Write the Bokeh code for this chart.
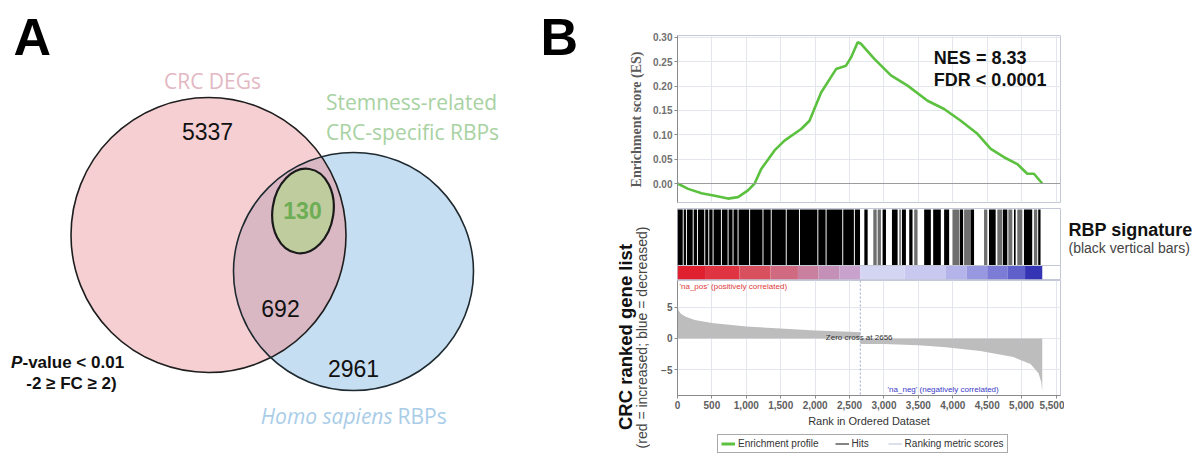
import numpy as np
from bokeh.plotting import figure
from bokeh.layouts import row, column
from bokeh.models import (Range1d, FixedTicker, NumeralTickFormatter, Span, Label,
                          Legend, LegendItem)
from bokeh.core.properties import value
from bokeh.embed import file_html
from bokeh.resources import INLINE

# ---------------- DATA ----------------
# Panel A: Venn diagram
venn_sets = ["CRC DEGs", "Homo sapiens RBPs", "Stemness-related CRC-specific RBPs"]
venn_regions = ["CRC DEGs only", "CRC DEGs & RBPs", "Stemness-related", "RBPs only"]
venn_counts = [5337, 692, 130, 2961]

# Panel B: running enrichment score
es_rank = [0, 155, 348, 541, 734, 879, 1024, 1121, 1217, 1410, 1555, 1797, 1918,
           2087, 2304, 2449, 2522, 2618, 2667, 2860, 3101, 3343, 3633, 3874, 4116,
           4358, 4551, 4744, 4937, 5082, 5179, 5300]
es_value = [0.0, -0.011, -0.020, -0.025, -0.031, -0.028, -0.014, 0.0, 0.030, 0.068,
            0.088, 0.112, 0.129, 0.187, 0.235, 0.242, 0.259, 0.290, 0.287, 0.256,
            0.222, 0.201, 0.170, 0.153, 0.129, 0.102, 0.071, 0.054, 0.040, 0.020,
            0.020, 0.0]
nes_text = "NES = 8.33"
fdr_text = "FDR < 0.0001"

# hits (black vertical bars): dense spans and sparser (grey-looking) spans, in rank units
hit_dense_start = [0, 90, 137, 235, 297, 403, 461, 524, 645, 742, 814, 887, 1055, 1249,
                   1369, 1587, 1779, 2046, 2166, 2408, 2577, 2715, 2980, 3116, 3261, 3367,
                   3584, 3715, 3874, 4101, 4261, 4526, 4729, 4889, 5034, 5241]
hit_dense_end = [76, 123, 221, 283, 389, 447, 510, 631, 728, 800, 873, 1041, 1235, 1355,
                 1573, 1765, 2032, 2152, 2394, 2563, 2652, 2763, 3029, 3198, 3319, 3415,
                 3681, 3826, 3947, 4150, 4309, 4623, 4792, 4913, 5154, 5275]
hit_sparse_start = [2845, 2908, 3222, 3439, 3995, 4164, 4454, 4647, 4807, 4937, 5179]
hit_sparse_end = [2894, 2956, 3246, 3488, 4092, 4261, 4502, 4720, 4865, 5010, 5227]

# ranking-metric colour bar (red = increased, blue = decreased)
bar_edges = [0, 400, 900, 1350, 1750, 2050, 2350, 2656, 3300, 3900, 4200, 4500, 4800,
             5050, 5300]
bar_colors = ["#E0202E", "#E03442", "#D8505E", "#D06A80", "#C8809E", "#C490B8",
              "#C8A2CC", "#D4D4F3", "#C8C8F0", "#B4B4EA", "#9898E0", "#7C7CD6",
              "#6060CA", "#3434B4"]

# ranked list metric
metric_rank = [0, 15, 50, 120, 250, 500, 1000, 1500, 2000, 2500, 2655, 2657, 3000,
               3500, 3900, 4400, 4880, 5130, 5246, 5285, 5300]
metric_value = [5.4, 4.5, 4.0, 3.5, 3.0, 2.5, 1.95, 1.6, 1.3, 1.1, 1.0, -0.9, -0.9,
                -1.1, -1.4, -2.0, -3.0, -4.1, -5.6, -7.0, -8.6]
zero_cross = 2656
x_ticks = [0, 500, 1000, 1500, 2000, 2500, 3000, 3500, 4000, 4500, 5000, 5500]
es_ticks = [0.0, 0.05, 0.10, 0.15, 0.20, 0.25, 0.30]
metric_ticks = [-5, 0, 5]
legend_labels = ["Enrichment profile", "Hits", "Ranking metric scores"]

# ---------------- STYLE ----------------
SANS = "Liberation Sans"
GRID = "#E4E6EE"
OUTLINE = "#C4C8D6"
GREEN = "#5BC13F"


def blank(p):
    p.axis.visible = False
    p.grid.visible = False
    p.outline_line_color = None


# ---------------- PANEL A (and free labels) ----------------
fa = figure(width=650, height=455, x_range=Range1d(0, 650), y_range=Range1d(455, 0),
            output_backend="svg", toolbar_location=None, min_border=0)
blank(fa)

pink = (208, 234.5, 275, 275)
blue = (353, 271, 240, 238)
green = (302.5, 210.5, 61, 85)

fa.ellipse(x=[pink[0]], y=[pink[1]], width=[pink[2]], height=[pink[3]],
           fill_color="#F5CFD2", line_color=None)
fa.ellipse(x=[blue[0]], y=[blue[1]], width=[blue[2]], height=[blue[3]],
           fill_color="#C6DEF1", line_color=None)


def ell_pts(cx, cy, w, h, n=1440):
    t = np.linspace(0, 2 * np.pi, n, endpoint=False)
    return cx + w / 2 * np.cos(t), cy + h / 2 * np.sin(t)


def inside(x, y, cx, cy, w, h):
    return ((x - cx) / (w / 2)) ** 2 + ((y - cy) / (h / 2)) ** 2 <= 1


px_, py_ = ell_pts(*pink)
bx_, by_ = ell_pts(*blue)
m1 = inside(px_, py_, *blue)
m2 = inside(bx_, by_, *pink)
lx = np.concatenate([px_[m1], bx_[m2]])
ly = np.concatenate([py_[m1], by_[m2]])
order = np.argsort(np.arctan2(ly - ly.mean(), lx - lx.mean()))
fa.patch(lx[order], ly[order], fill_color="#D9B8C4", line_color=None)

fa.ellipse(x=[pink[0]], y=[pink[1]], width=[pink[2]], height=[pink[3]],
           fill_color=None, line_color="#1E1E1E", line_width=1.6)
fa.ellipse(x=[blue[0]], y=[blue[1]], width=[blue[2]], height=[blue[3]],
           fill_color=None, line_color="#1E2A30", line_width=1.6)
fa.ellipse(x=[green[0]], y=[green[1]], width=[green[2]], height=[green[3]],
           angle=-0.15, fill_color="#BECC9E", line_color="#1A1A1A", line_width=2.2)

# counts
count_pos_x = [207, 280, 302, 353]
count_pos_y = [131, 308, 210, 368]
count_colors = ["#111111", "#111111", "#6DAE55", "#111111"]
count_styles = ["normal", "normal", "bold", "normal"]
fa.text(x=count_pos_x, y=count_pos_y, text=[str(c) for c in venn_counts],
        text_color=count_colors, text_font_style=count_styles,
        text_font=value(SANS), text_font_size="23px",
        text_align="center", text_baseline="middle")

# set labels
fa.text(x=[212], y=[80], text=[venn_sets[0]], text_color="#E3B8C3",
        text_font=value("Open Sans"), text_font_size="21px",
        text_align="center", text_baseline="middle")
fa.text(x=[411, 412], y=[101, 131], text=["Stemness-related", "CRC-specific RBPs"],
        text_color="#A8D2A2", text_font=value("Open Sans"), text_font_size="21px",
        text_align="center", text_baseline="middle")
fa.text(x=[392], y=[415], text=["Homo sapiens"], text_color="#A9CDE8",
        text_font=value("Open Sans"), text_font_style="italic", text_font_size="21px",
        text_align="right", text_baseline="middle")
fa.text(x=[397], y=[415], text=["RBPs"], text_color="#A9CDE8",
        text_font=value("Open Sans"), text_font_size="21px",
        text_align="left", text_baseline="middle")

# threshold note
fa.text(x=[10.5], y=[362], text=["P"], text_font=value(SANS), text_font_size="17px",
        text_font_style="bold italic", text_color="#111111",
        text_align="left", text_baseline="middle")
fa.text(x=[22], y=[362], text=["-value < 0.01"], text_font=value(SANS),
        text_font_size="17px", text_font_style="bold", text_color="#111111",
        text_align="left", text_baseline="middle")
fa.text(x=[71], y=[383], text=["-2 \u2265 FC \u2265 2)"], text_font=value(SANS),
        text_font_size="17px", text_font_style="bold", text_color="#111111",
        text_align="center", text_baseline="middle")

# panel letters
fa.text(x=[13, 540], y=[36, 36], text=["A", "B"], text_font=value(SANS),
        text_font_size="52px", text_font_style="bold", text_color="#000000",
        text_align="left", text_baseline="middle")

# rotated labels of panel B
fa.text(x=[636], y=[119], text=["Enrichment score (ES)"], angle=np.pi / 2,
        text_font=value("Liberation Serif"), text_font_size="14px",
        text_font_style="bold", text_color="#5A5A5A",
        text_align="center", text_baseline="middle")
fa.text(x=[625], y=[336.5], text=["CRC ranked gene list"], angle=np.pi / 2,
        text_font=value(SANS), text_font_size="18.5px", text_font_style="bold",
        text_color="#111111", text_align="center", text_baseline="middle")
fa.text(x=[641.5], y=[337], text=["(red = increased; blue = decreased)"],
        angle=np.pi / 2, text_font=value(SANS), text_font_size="14px",
        text_color="#444444", text_align="center", text_baseline="middle")

# ---------------- PANEL B ----------------
X_END = 5565
common = dict(width=414, output_backend="svg", toolbar_location=None,
              min_border_left=26, min_border_right=4)

# running enrichment score
fe = figure(height=204, x_range=Range1d(0, X_END), y_range=Range1d(-0.039, 0.304),
            min_border_top=35, min_border_bottom=2, **common)
fe.xaxis.visible = False
fe.xgrid.ticker = FixedTicker(ticks=x_ticks)
fe.ygrid.ticker = FixedTicker(ticks=es_ticks)
fe.grid.grid_line_color = GRID
fe.outline_line_color = OUTLINE
fe.yaxis.ticker = FixedTicker(ticks=es_ticks)
fe.yaxis.formatter = NumeralTickFormatter(format="0.00")
fe.yaxis.axis_line_color = "#8A8A8A"
fe.yaxis.major_tick_line_color = "#8A8A8A"
fe.yaxis.major_tick_out = 3
fe.yaxis.major_tick_in = 0
fe.yaxis.minor_tick_line_color = None
fe.yaxis.major_label_standoff = 2
fe.yaxis.major_label_text_font = SANS
fe.yaxis.major_label_text_font_size = "10px"
fe.yaxis.major_label_text_font_style = "bold"
fe.yaxis.major_label_text_color = "#707070"
fe.add_layout(Span(location=0, dimension="width", line_color="#9C9C9C", line_width=1))
fe.line(es_rank, es_value, line_color=GREEN, line_width=2.6)
fe.add_layout(Label(x=3725, y=0.257, text=nes_text, text_font=SANS,
                    text_font_size="18px", text_font_style="bold",
                    text_baseline="middle", text_color="#111111"))
fe.add_layout(Label(x=3725, y=0.212, text=fdr_text, text_font=SANS,
                    text_font_size="18px", text_font_style="bold",
                    text_baseline="middle", text_color="#111111"))

# hits + colour bar
fh = figure(height=76, x_range=fe.x_range, y_range=Range1d(0, 1),
            min_border_top=4, min_border_bottom=1, **common)
blank(fh)
fh.outline_line_color = OUTLINE
fh.quad(left=hit_sparse_start, right=hit_sparse_end, bottom=0.197, top=0.985,
        fill_color="#6E6E6E", line_color=None)
fh.quad(left=hit_dense_start, right=hit_dense_end, bottom=0.197, top=0.985,
        fill_color="#000000", line_color=None)
fh.quad(left=bar_edges[:-1], right=bar_edges[1:], bottom=0, top=0.197,
        fill_color=bar_colors, line_color=None)
fh.add_layout(Span(location=0.197, dimension="width", line_color=OUTLINE, line_width=1))

# ranked list metric
fm = figure(height=153, x_range=fe.x_range, y_range=Range1d(-9.19, 9.35),
            min_border_top=0, min_border_bottom=38, **common)
fm.outline_line_color = OUTLINE
fm.xgrid.ticker = FixedTicker(ticks=x_ticks)
fm.ygrid.ticker = FixedTicker(ticks=metric_ticks)
fm.grid.grid_line_color = GRID
fm.varea(x=metric_rank, y1=0, y2=metric_value, fill_color="#BDBDBD")
fm.add_layout(Span(location=zero_cross, dimension="height", line_color="#9AA6C8",
                   line_dash="2 2", line_width=1))
fm.xaxis.ticker = FixedTicker(ticks=x_ticks)
fm.xaxis.formatter = NumeralTickFormatter(format="0,0")
fm.yaxis.ticker = FixedTicker(ticks=metric_ticks)
for ax in (fm.xaxis, fm.yaxis):
    ax.axis_line_color = "#8A8A8A"
    ax.major_tick_line_color = "#8A8A8A"
    ax.major_tick_out = 3
    ax.major_tick_in = 0
    ax.minor_tick_line_color = None
    ax.major_label_standoff = 2
    ax.major_label_text_font = SANS
    ax.major_label_text_font_size = "10px"
    ax.major_label_text_font_style = "bold"
    ax.major_label_text_color = "#606060"
fm.xaxis.axis_label = "Rank in Ordered Dataset"
fm.xaxis.axis_label_standoff = 3
fm.xaxis.axis_label_text_font = SANS
fm.xaxis.axis_label_text_font_size = "11px"
fm.xaxis.axis_label_text_font_style = "normal"
fm.xaxis.axis_label_text_color = "#333333"
fm.text(x=[29], y=[8.4], text=["'na_pos' (positively correlated)"],
        text_color="#E03A3A", text_font=value(SANS), text_font_size="8px",
        text_align="left", text_baseline="middle")
fm.text(x=[zero_cross - 16], y=[0.2], text=["Zero cross at %d" % zero_cross],
        text_color="#333333", text_font=value(SANS), text_font_size="8px",
        text_align="center", text_baseline="middle")
fm.text(x=[4667], y=[-8.27], text=["'na_neg' (negatively correlated)"],
        text_color="#3A3AC8", text_font=value(SANS), text_font_size="8px",
        text_align="right", text_baseline="middle")

# legend strip (legend-only renderers hold a single NaN point so that the legend
# can draw their swatches; nothing is plotted)
fl = figure(width=414, height=22, x_range=Range1d(0, 1), y_range=Range1d(0, 1),
            output_backend="svg", toolbar_location=None, min_border=0)
blank(fl)
nan = [float("nan")]
r1 = fl.line(nan, nan, line_color=GREEN, line_width=3)
r2 = fl.line(nan, nan, line_color="#333333", line_width=1.2)
r3 = fl.line(nan, nan, line_color="#C4CCDE", line_width=1.2)
legend = Legend(items=[LegendItem(label=legend_labels[0], renderers=[r1]),
                       LegendItem(label=legend_labels[1], renderers=[r2]),
                       LegendItem(label=legend_labels[2], renderers=[r3])],
                orientation="horizontal", location=(40, 2), margin=0, padding=3,
                spacing=16, glyph_width=14, glyph_height=11, label_height=11,
                label_standoff=3, label_text_font=SANS, label_text_font_size="10px",
                label_text_color="#333333", border_line_color="#555555",
                border_line_width=1, background_fill_color="#FFFFFF")
fl.add_layout(legend)

colB = column(fe, fh, fm, fl, spacing=0)

# right-hand annotation
fr = figure(width=140, height=455, x_range=Range1d(1064, 1204), y_range=Range1d(455, 0),
            output_backend="svg", toolbar_location=None, min_border=0)
blank(fr)
fr.text(x=[1068], y=[229.5], text=["RBP signature"], text_font=value(SANS),
        text_font_size="18px", text_font_style="bold", text_color="#111111",
        text_align="left", text_baseline="middle")
fr.text(x=[1068], y=[247.5], text=["(black vertical bars)"], text_font=value(SANS),
        text_font_size="14px", text_color="#444444",
        text_align="left", text_baseline="middle")

layout = row(fa, colB, fr, spacing=0)
open("out.html", "w").write(file_html(layout, INLINE))
